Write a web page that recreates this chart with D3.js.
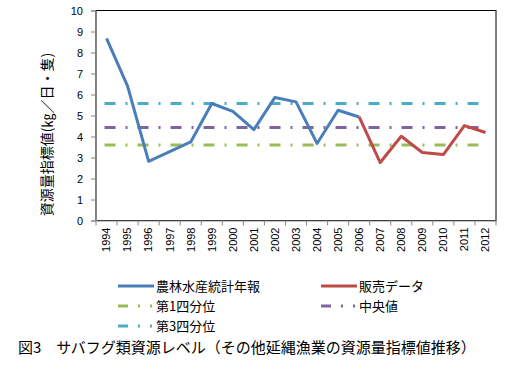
<!DOCTYPE html>
<html><head><meta charset="utf-8">
<script src="https://cdn.jsdelivr.net/npm/d3@7/dist/d3.min.js"></script>
<style>body{margin:0;background:#fff}svg{display:block}</style>
</head><body>
<svg id="c" width="517" height="385"></svg>
<script>
const years = ["1994","1995","1996","1997","1998","1999","2000","2001","2002","2003","2004","2005","2006","2007","2008","2009","2010","2011","2012"];
const statValues = [8.67,6.4,2.82,3.28,3.74,5.57,5.2,4.33,5.86,5.65,3.67,5.25,4.93,null,null,null,null,null,null];
const salesValues = [null,null,null,null,null,null,null,null,null,null,null,null,4.93,2.76,4.01,3.24,3.14,4.52,4.19];
const q1 = 3.59, median = 4.43, q3 = 5.57;
const yTicks = [0,1,2,3,4,5,6,7,8,9,10];
const seriesNames = ["農林水産統計年報","販売データ","第1四分位","中央値","第3四分位"];
const yTitle = "資源量指標値(㎏／日・隻)";
const caption = "図3\u3000サバフグ類資源レベル（その他延縄漁業の資源量指標値推移）";

const colors = {stat:"#4A7EBB", sales:"#BE4B48", q1:"#9BBB59", med:"#8064A2", q3:"#4BACC6"};
const dash = "11,10,2,10";
const legDash = "10,10,2,10,2,2";
const svg = d3.select("#c");
const L=96, R=496, T=10.5, B=220.5;
const x = d3.scaleBand().domain(years).range([L,R]);
const y = d3.scaleLinear().domain([0,10]).range([B,T]);
const cx = d => x(d) + x.bandwidth()/2;
const font = "'Liberation Sans', Arial, sans-serif";
const jfont = "'Noto Sans CJK JP', sans-serif";

// plot border
svg.append("rect").attr("x",L).attr("y",T).attr("width",R-L).attr("height",B-T)
  .attr("fill","none").attr("stroke","#000").attr("stroke-width",1);

// y axis
const ya = svg.append("g").attr("transform",`translate(${L},0)`)
  .call(d3.axisLeft(y).tickValues(yTicks).tickSize(5).tickPadding(8));
ya.select(".domain").attr("stroke","#868686");
ya.selectAll(".tick line").attr("stroke","#868686");
ya.selectAll("text").attr("font-family",font).attr("font-size","11px").attr("fill","#000");

// x axis
const xa = svg.append("g").attr("transform",`translate(0,${B})`)
  .call(d3.axisBottom(x).tickSize(0).tickSizeOuter(0));
xa.select(".domain").attr("stroke","#868686");
xa.selectAll("text").attr("font-family",font).attr("font-size","11px").attr("fill","#000")
  .attr("transform","rotate(-90)").attr("text-anchor","end").attr("dy","0.35em").attr("dx","-7px").attr("y",0);
// boundary ticks
svg.append("g").selectAll("line").data(years.concat(["end"])).join("line")
  .attr("x1",(d,i)=> i<years.length ? x(d) : R).attr("x2",(d,i)=> i<years.length ? x(d) : R)
  .attr("y1",B).attr("y2",B+5).attr("stroke","#868686");

// reference lines
[[q1,colors.q1],[median,colors.med],[q3,colors.q3]].forEach(([v,c])=>{
  svg.append("line").attr("x1",cx(years[0])-2).attr("x2",cx(years[years.length-1]))
    .attr("y1",y(v)).attr("y2",y(v)).attr("stroke",c).attr("stroke-width",3)
    .attr("stroke-dasharray",dash);
});

const line = d3.line().defined(d=>d.v!=null).x(d=>cx(d.y)).y(d=>y(d.v));
svg.append("path").datum(years.map((yr,i)=>({y:yr,v:statValues[i]})))
  .attr("d",line).attr("fill","none").attr("stroke",colors.stat).attr("stroke-width",3).attr("stroke-linejoin","round");
svg.append("path").datum(years.map((yr,i)=>({y:yr,v:salesValues[i]})))
  .attr("d",line).attr("fill","none").attr("stroke",colors.sales).attr("stroke-width",3).attr("stroke-linejoin","round");

// y title
svg.append("text").attr("transform","translate(52,134.5) rotate(-90)")
  .attr("text-anchor","middle").attr("font-family",jfont).attr("font-size","14px").text(yTitle);

// legend
const leg = [
  {n:seriesNames[0],c:colors.stat,d:null,x:118,y:286},
  {n:seriesNames[1],c:colors.sales,d:null,x:321,y:286},
  {n:seriesNames[2],c:colors.q1,d:legDash,x:118,y:306},
  {n:seriesNames[3],c:colors.med,d:legDash,x:321,y:306},
  {n:seriesNames[4],c:colors.q3,d:legDash,x:118,y:326}
];
leg.forEach(o=>{
  svg.append("line").attr("x1",o.x).attr("x2",o.x+36).attr("y1",o.y).attr("y2",o.y)
    .attr("stroke",o.c).attr("stroke-width",3).attr("stroke-dasharray",o.d);
  svg.append("text").attr("x",o.x+38).attr("y",o.y).attr("dy","0.36em")
    .attr("font-family",jfont).attr("font-size","13px").text(o.n);
});

svg.append("text").attr("x",18).attr("y",348).attr("dy","0.36em")
  .attr("font-family",jfont).attr("font-size","15px").text(caption);
</script>
</body></html>
